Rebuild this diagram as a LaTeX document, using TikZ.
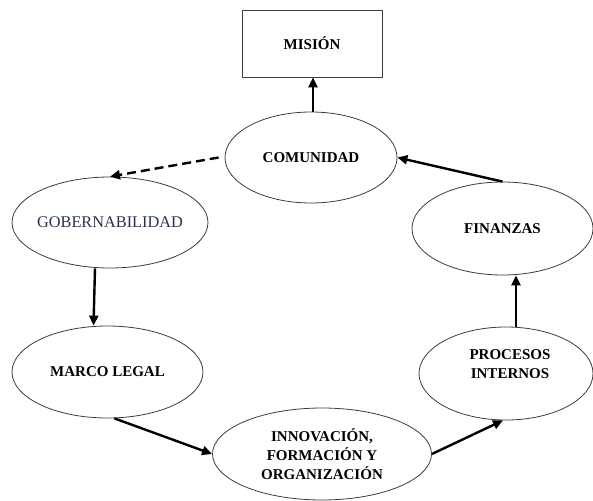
\documentclass[tikz,border=0pt]{standalone}
\usepackage{fontspec}
\setmainfont{Liberation Serif}
\usetikzlibrary{shapes.geometric,arrows.meta,calc}
\definecolor{linegray}{RGB}{60,60,60}
\definecolor{govblue}{RGB}{40,50,80}
\tikzset{
  ell/.style={ellipse, draw=linegray, line width=0.8pt, inner sep=0pt, align=center,
    font=\fontsize{15}{19}\selectfont\bfseries},
  boxnode/.style={rectangle, draw=linegray, line width=0.9pt, inner sep=0pt,
    font=\fontsize{15}{19}\selectfont\bfseries},
  arr/.style={line width=2.4pt, -{Triangle[length=10pt,width=9pt]}},
  dasharr/.style={arr, dash pattern=on 9pt off 5pt}
}
\begin{document}
\begin{tikzpicture}[x=1pt,y=-1pt]
\useasboundingbox (0,0) rectangle (593,500);
\node[boxnode, minimum width=140pt, minimum height=67pt] (mision) at (312,43.5) {MISIÓN};
\node[ell, minimum width=172pt, minimum height=91pt] (comu) at (311,157.5) {COMUNIDAD};
\node[ell, minimum width=196pt, minimum height=91pt, inner xsep=-20pt,
      font=\fontsize{16.3}{19}\selectfont, text=govblue] (gob) at (110,222.5) {GOBERNABILIDAD};
\node[ell, minimum width=191pt, minimum height=92pt] (marco) at (107.5,372) {MARCO LEGAL};
\node[ell, minimum width=219pt, minimum height=92pt] (innov) at (322,454) {INNOVACIÓN,\\FORMACIÓN Y\\ORGANIZACIÓN};
\node[ell, minimum width=174pt, minimum height=93pt,
      label={[font=\fontsize{15}{19}\selectfont\bfseries, align=center, yshift=9pt, xshift=4pt]center:PROCESOS\\INTERNOS}] (proc) at (506,373.5) {};
\node[ell, minimum width=181pt, minimum height=93pt] (fin) at (502.5,228.5) {FINANZAS};

\draw[arr] ([xshift=2pt]comu.north) -- ([xshift=1pt]mision.south);
\draw[dasharr] ([xshift=-6pt]comu.west) -- (gob.north);
\draw[arr] ([xshift=-15pt]gob.south) -- ([xshift=-14pt]marco.north);
\draw[arr] ([xshift=7pt]marco.south) -- (innov.west);
\draw[arr] (innov.east) -- ([xshift=-3pt]proc.south);
\draw[arr] ([xshift=10pt]proc.north) -- ([xshift=13.5pt]fin.south);
\draw[arr] (fin.north) -- (comu.east);
\end{tikzpicture}
\end{document}
